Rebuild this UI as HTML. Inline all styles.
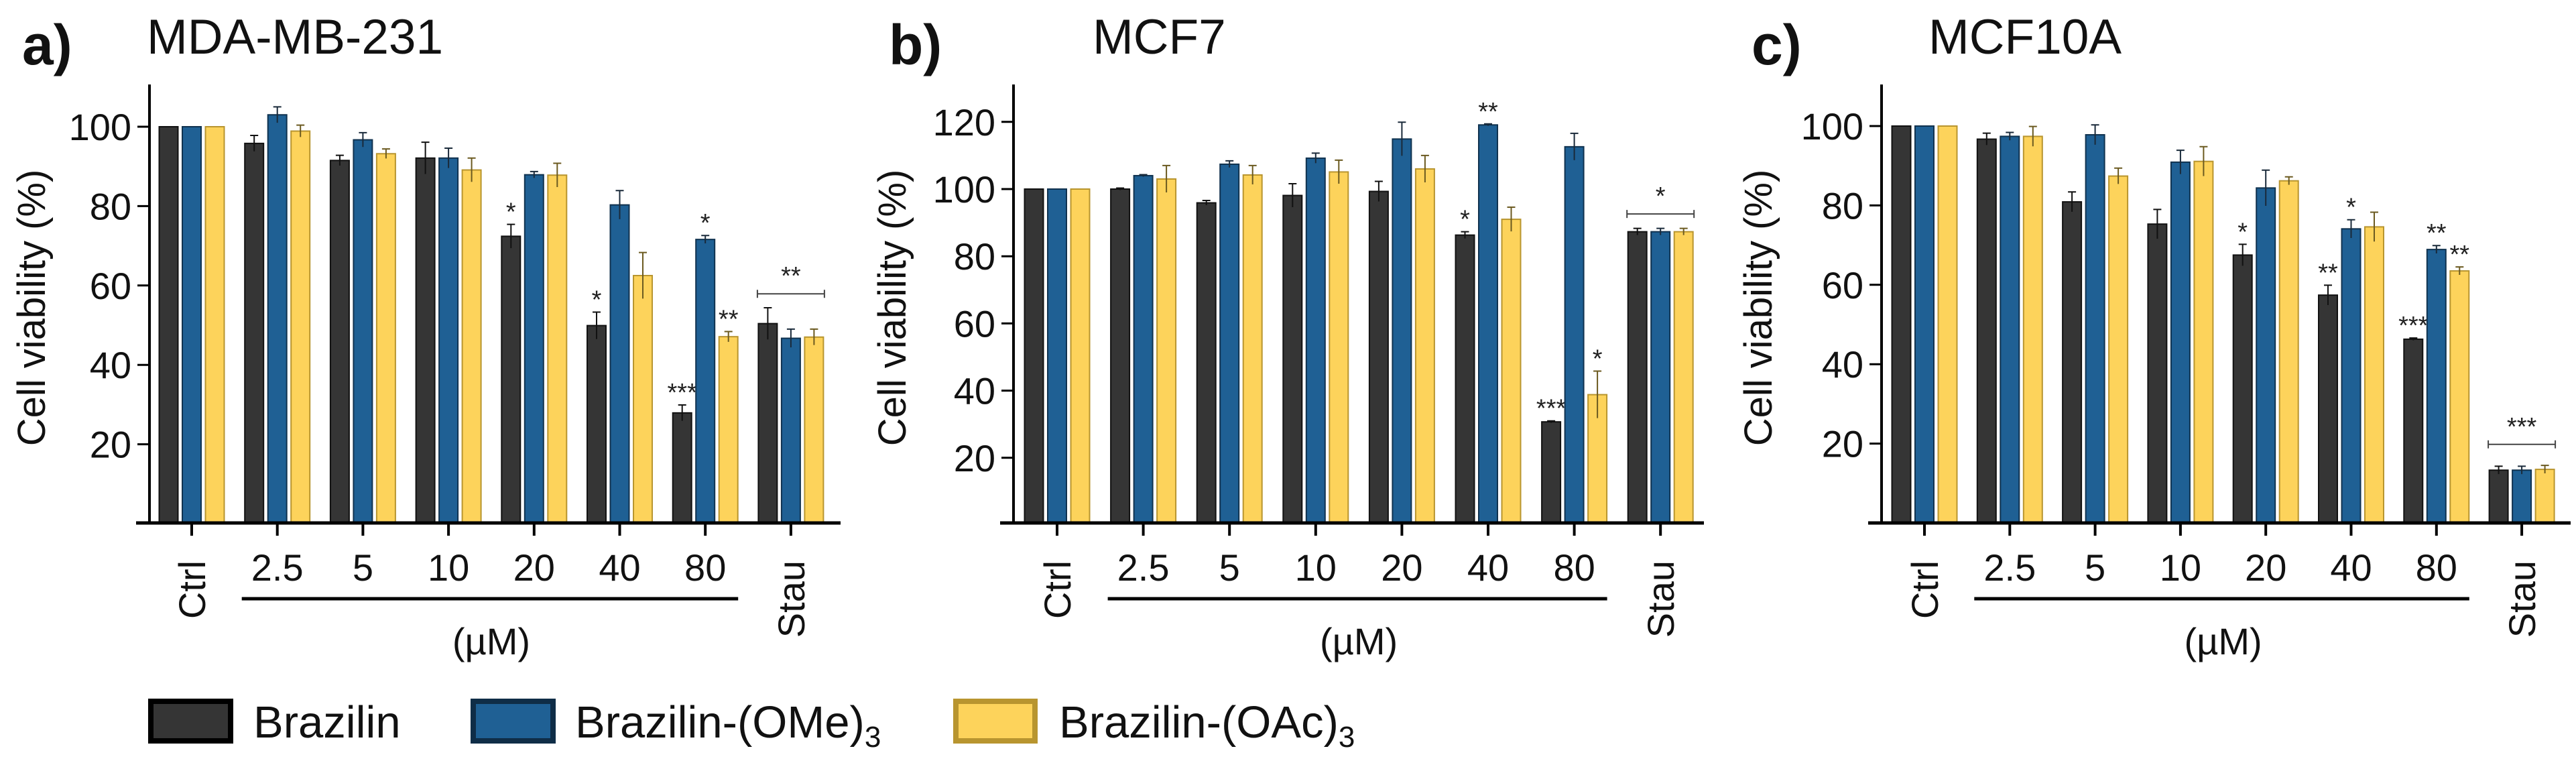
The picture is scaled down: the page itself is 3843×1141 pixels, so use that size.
<!DOCTYPE html>
<html><head><meta charset="utf-8">
<style>
html,body{margin:0;padding:0;background:#fff;}
svg{display:block;font-family:"Liberation Sans",Arial,sans-serif;}
</style></head>
<body>
<svg id="fig" width="3843" height="1141" viewBox="0 0 3843 1141" xmlns="http://www.w3.org/2000/svg">
<rect x="0" y="0" width="3843" height="1141" fill="#ffffff"/>
<g id="legend">
  <g>
    <rect x="225" y="1046" width="119" height="59" fill="#353535" stroke="#000" stroke-width="8"/>
    <text x="378" y="1100" font-size="67" fill="#111">Brazilin</text>
  </g>
  <g>
    <rect x="706" y="1046" width="119" height="59" fill="#1f6094" stroke="#0f2d47" stroke-width="8"/>
    <text x="858" y="1100" font-size="67" fill="#111">Brazilin-(OMe)<tspan font-size="44" dy="14">3</tspan></text>
  </g>
  <g>
    <rect x="1426" y="1046" width="118" height="59" fill="#fdd35b" stroke="#b8952f" stroke-width="8"/>
    <text x="1580" y="1100" font-size="67" fill="#111">Brazilin-(OAc)<tspan font-size="44" dy="14">3</tspan></text>
  </g>
</g>
</svg>
<script>
// ---- data ----
const categories = ["Ctrl","2.5","5","10","20","40","80","Stau"];
const seriesNames = ["Brazilin","Brazilin-(OMe)3","Brazilin-(OAc)3"];

const aBrazilin = [100,95.8,91.5,92.1,72.4,49.9,27.9,50.4];
const aOMe      = [100,103,96.7,92.1,87.9,80.3,71.6,46.7];
const aOAc      = [100,98.9,93.2,89.1,87.8,62.5,47.1,47.0];
const aErrBrazilin = [0,2,1.3,4,3,3.4,2,4];
const aErrOMe      = [0,2,1.8,2.5,0.8,3.6,1,2.3];
const aErrOAc      = [0,1.5,1.2,3,3,5.8,1.3,2];
const aStars = [["",""," "],["","",""],["","",""],["","",""],["*","",""],["*","",""],["***","*","**"],["","",""]];

const bBrazilin = [100,100,95.9,98.1,99.3,86.3,30.7,87.3];
const bOMe      = [100,104,107.4,109.2,114.9,119.1,112.6,87.3];
const bOAc      = [100,103,104.2,105.1,106,91,38.8,87.3];
const bErrBrazilin = [0,0.3,0.7,3.5,3,1,0.3,1];
const bErrOMe      = [0,0.3,1,1.5,5,0.3,4,1];
const bErrOAc      = [0,4,2.8,3.5,4,3.6,7,1];
const bStars = [["","",""],["","",""],["","",""],["","",""],["","",""],["*","**",""],["***","","*"],["","",""]];

const cBrazilin = [100,96.7,80.9,75.3,67.5,57.4,46.3,13.3];
const cOMe      = [100,97.4,97.8,90.9,84.4,74.1,68.9,13.3];
const cOAc      = [100,97.4,87.4,91.1,86.2,74.6,63.5,13.5];
const cErrBrazilin = [0,1.5,2.5,3.7,2.7,2.5,0.3,1];
const cErrOMe      = [0,1,2.5,3,4.5,2.3,1,1];
const cErrOAc      = [0,2.5,2,3.7,1,3.7,1,1];
const cStars = [["","",""],["","",""],["","",""],["","",""],["*","",""],["**","*",""],["***","**","**"],["","",""]];

const aTicks = [20,40,60,80,100];
const bTicks = [20,40,60,80,100,120];
const cTicks = [20,40,60,80,100];

const aStauBracket = {value:57.9, label:"**"};
const bStauBracket = {value:92.6, label:"*"};
const cStauBracket = {value:19.8, label:"***"};

// ---- drawing ----
const NS = "http://www.w3.org/2000/svg";
const svg = document.getElementById('fig');
function mk(tag, attrs, parent){
  const e = document.createElementNS(NS, tag);
  for (const k in attrs) e.setAttribute(k, attrs[k]);
  (parent||svg).appendChild(e);
  return e;
}
const fills = ["#353535","#1f6094","#fdd35b"];
const strokes = ["#111111","#10324f","#b8952f"];
const errCol = ["#111","#1a2a3a","#6b5a20"];

function panel(cfg){
  const g = mk('g', {});
  
  
  const ax = cfg.axisX, y0 = cfg.y0, k = cfg.k, axisY = 780;
  const xc = i => cfg.ctrlX + i * cfg.step;
  const yv = v => y0 - v * k;
  // bars
  const series = [cfg.s0, cfg.s1, cfg.s2];
  const errs = [cfg.e0, cfg.e1, cfg.e2];
  const off = [-34.5, 0, 34.5], bw = 28;
  for (let i = 0; i < categories.length; i++) {
    for (let s = 0; s < 3; s++) {
      const v = series[s][i], cx = xc(i) + off[s];
      const r = mk('rect', {x: cx - bw/2, y: yv(v), width: bw, height: axisY - yv(v), fill: fills[s], stroke: strokes[s], 'stroke-width': 2}, g);
      
      
      const e = errs[s][i];
      if (e > 0) {
        const eb = mk('path', {d: `M${cx},${yv(v-e)}V${yv(v+e)}M${cx-6},${yv(v+e)}H${cx+6}`, stroke: errCol[s], 'stroke-width': 2, fill: 'none'}, g);
        
        
      }
      const st = cfg.stars[i][s];
      if (st && st.trim()) {
        const t = mk('text', {x: cx, y: yv(v + e) - 6, 'font-size': 38, 'text-anchor': 'middle', fill: '#222'}, g);
        t.textContent = st;
        
        
      }
    }
  }
  // axes
  const yaxis = mk('line', {x1: ax, y1: 126, x2: ax, y2: axisY + 2, stroke: '#000', 'stroke-width': 4}, g);
  
  
  const xaxis = mk('line', {x1: ax - 20, y1: axisY, x2: cfg.axisEnd, y2: axisY, stroke: '#000', 'stroke-width': 5}, g);
  
  
  cfg.ticks.forEach(t => {
    const tl = mk('line', {x1: ax - 18, y1: yv(t), x2: ax, y2: yv(t), stroke: '#000', 'stroke-width': 3}, g);
    
    
    const tx = mk('text', {x: ax - 27, y: yv(t) + 20, 'font-size': 56, 'text-anchor': 'end', fill: '#111'}, g);
    tx.textContent = t;
    
    
  });
  categories.forEach((c, i) => {
    const tl = mk('line', {x1: xc(i), y1: axisY, x2: xc(i), y2: axisY + 19, stroke: '#000', 'stroke-width': 4}, g);
    
    
    let tx;
    if (i === 0 || i === categories.length - 1) {
      tx = mk('text', {x: 0, y: 0, 'font-size': 56, 'text-anchor': 'end', fill: '#111', transform: `translate(${xc(i) + 20},836) rotate(-90)`}, g);
    } else {
      tx = mk('text', {x: xc(i), y: 866, 'font-size': 56, 'text-anchor': 'middle', fill: '#111'}, g);
    }
    tx.textContent = c;
    
    
  });
  // concentration bracket
  const bl = mk('line', {x1: xc(1) - 53, y1: 893, x2: xc(6) + 49, y2: 893, stroke: '#000', 'stroke-width': 5}, g);
  
  
  const um = mk('text', {x: (xc(1) + xc(6)) / 2, y: 976, 'font-size': 56, 'text-anchor': 'middle', fill: '#111'}, g);
  um.textContent = '(\u00B5M)';
  
  
  // stau bracket
  const sx = xc(7), by = yv(cfg.bracket.value);
  const sb = mk('path', {d: `M${sx-50},${by}H${sx+50}M${sx-50},${by-6}V${by+6}M${sx+50},${by-6}V${by+6}`, stroke: '#444', 'stroke-width': 2, fill: 'none'}, g);
  
  
  const sbt = mk('text', {x: sx, y: by - 14, 'font-size': 38, 'text-anchor': 'middle', fill: '#222'}, g);
  sbt.textContent = cfg.bracket.label;
  
  
  // y label
  const yl = mk('text', {x: 0, y: 0, 'font-size': 58, 'text-anchor': 'middle', fill: '#111', transform: `translate(${cfg.ylabX + 21},459) rotate(-90)`}, g);
  yl.textContent = 'Cell viability (%)';
  
  
  // titles
  const pl = mk('text', {x: cfg.letterX, y: 96, 'font-size': 84, 'font-weight': 'bold', fill: '#111'}, g);
  pl.textContent = cfg.letter + ')';
  
  
  const pt = mk('text', {x: cfg.titleX, y: 80, 'font-size': 73, fill: '#111'}, g);
  pt.textContent = cfg.title;
  
  
}

panel({letter:'a', title:'MDA-MB-231', axisX:223, axisEnd:1254, ctrlX:286, step:127.7, y0:781, k:5.92,
  s0:aBrazilin, s1:aOMe, s2:aOAc, e0:aErrBrazilin, e1:aErrOMe, e2:aErrOAc, stars:aStars, ticks:aTicks,
  bracket:aStauBracket, ylabX:46, letterX:33, titleX:219});
panel({letter:'b', title:'MCF7', axisX:1512, axisEnd:2542, ctrlX:1577, step:128.6, y0:783, k:5.01,
  s0:bBrazilin, s1:bOMe, s2:bOAc, e0:bErrBrazilin, e1:bErrOMe, e2:bErrOAc, stars:bStars, ticks:bTicks,
  bracket:bStauBracket, ylabX:1330, letterX:1326, titleX:1630});
panel({letter:'c', title:'MCF10A', axisX:2807, axisEnd:3835, ctrlX:2871, step:127.3, y0:780, k:5.92,
  s0:cBrazilin, s1:cOMe, s2:cOAc, e0:cErrBrazilin, e1:cErrOMe, e2:cErrOAc, stars:cStars, ticks:cTicks,
  bracket:cStauBracket, ylabX:2622, letterX:2613, titleX:2877});
</script>
</body></html>
